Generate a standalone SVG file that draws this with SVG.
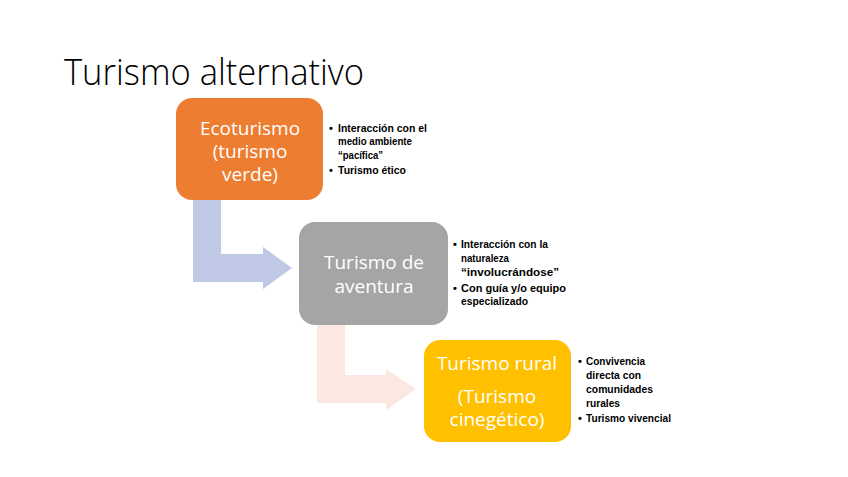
<svg xmlns="http://www.w3.org/2000/svg" width="848" height="477" viewBox="0 0 848 477">
<style>
.title{font-family:"Open Sans","Liberation Sans",sans-serif;font-weight:300;font-size:36px;fill:#000}
.lbl{font-family:"Open Sans","Liberation Sans",sans-serif;font-size:19px;fill:#fff;text-anchor:middle}
.bul{font-family:"Liberation Sans","Open Sans",sans-serif;font-weight:bold;font-size:11px;fill:#000}
</style>
<rect width="848" height="477" fill="#fff"/>
<text class="title" x="64" y="85" textLength="300" lengthAdjust="spacingAndGlyphs">Turismo alternativo</text>
<g id="connectors">
<path d="M193,200 H221 V254 H263 V247 L292,268 L263,289 V282 H193 Z" fill="#BFC9E6"/>
<path d="M317,325 H345 V375 H386 V369 L416,389 L386,410 V403 H317 Z" fill="#FBE8E2"/>
</g>
<g id="n1">
<rect x="176" y="98" width="147" height="102" rx="16" fill="#ED7D31"/>
<text class="lbl"><tspan x="250" y="135">Ecoturismo</tspan><tspan x="250" y="158">(turismo</tspan><tspan x="250" y="181">verde)</tspan></text>
</g>
<g id="n1b">
<text class="bul"><tspan x="329" y="132">•</tspan><tspan x="338" y="132" textLength="89" lengthAdjust="spacingAndGlyphs">Interacción con el</tspan><tspan x="338" y="145" textLength="74" lengthAdjust="spacingAndGlyphs">medio ambiente</tspan><tspan x="338" y="159" textLength="45" lengthAdjust="spacingAndGlyphs">“pacífica”</tspan><tspan x="329" y="174">•</tspan><tspan x="338" y="174" textLength="68" lengthAdjust="spacingAndGlyphs">Turismo ético</tspan></text>
</g>
<g id="n2">
<rect x="299" y="222" width="149" height="103" rx="16" fill="#A5A5A5"/>
<text class="lbl"><tspan x="374" y="269">Turismo de</tspan><tspan x="374" y="293">aventura</tspan></text>
</g>
<g id="n2b">
<text class="bul"><tspan x="453" y="248">•</tspan><tspan x="461" y="248" textLength="87" lengthAdjust="spacingAndGlyphs">Interacción con la</tspan><tspan x="461" y="262" textLength="48" lengthAdjust="spacingAndGlyphs">naturaleza</tspan><tspan x="461" y="276" textLength="98" lengthAdjust="spacingAndGlyphs">“involucrándose”</tspan><tspan x="453" y="292">•</tspan><tspan x="461" y="292" textLength="105" lengthAdjust="spacingAndGlyphs">Con guía y/o equipo</tspan><tspan x="461" y="305" textLength="67" lengthAdjust="spacingAndGlyphs">especializado</tspan></text>
</g>
<g id="n3">
<rect x="424" y="340" width="147" height="102" rx="16" fill="#FFC000"/>
<text class="lbl"><tspan x="497" y="370">Turismo rural</tspan><tspan x="497" y="403">(Turismo</tspan><tspan x="497" y="426">cinegético)</tspan></text>
</g>
<g id="n3b">
<text class="bul"><tspan x="578" y="365">•</tspan><tspan x="586" y="365" textLength="59" lengthAdjust="spacingAndGlyphs">Convivencia</tspan><tspan x="586" y="379" textLength="55" lengthAdjust="spacingAndGlyphs">directa con</tspan><tspan x="586" y="393" textLength="67" lengthAdjust="spacingAndGlyphs">comunidades</tspan><tspan x="586" y="407" textLength="34" lengthAdjust="spacingAndGlyphs">rurales</tspan><tspan x="578" y="422">•</tspan><tspan x="586" y="422" textLength="85" lengthAdjust="spacingAndGlyphs">Turismo vivencial</tspan></text>
</g>
</svg>
